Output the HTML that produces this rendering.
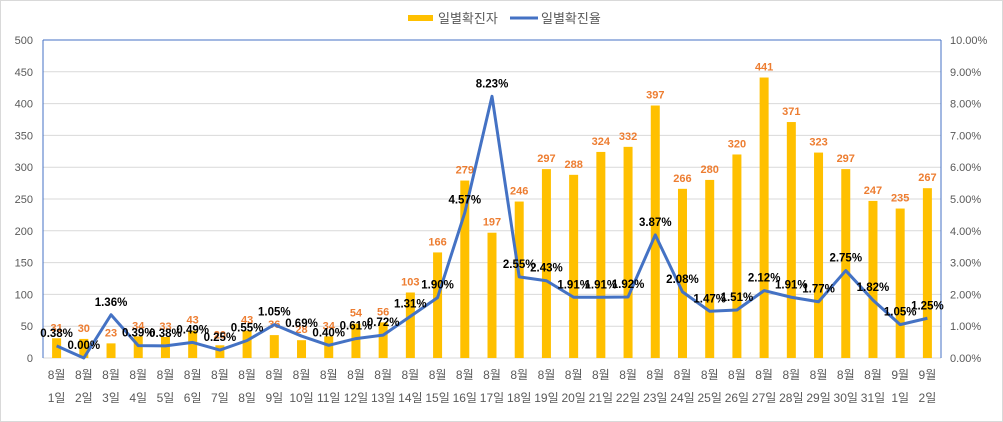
<!DOCTYPE html>
<html><head><meta charset="utf-8"><style>
body{margin:0;background:#fff;}
svg{display:block;font-family:"Liberation Sans","Noto Sans CJK KR",sans-serif;}
</style></head><body>
<svg id="c" width="1003" height="422">
<rect x="0.5" y="0.5" width="1002" height="421" fill="#fff" stroke="#d9d9d9"/>
<g>
<g><rect x="408" y="15" width="25" height="6" fill="#ffc000"/><text x="438" y="23" font-size="13" fill="#595959">일별확진자</text></g>
<g><line x1="510" y1="18" x2="538" y2="18" stroke="#4472c4" stroke-width="3"/><text x="541" y="23" font-size="13" fill="#595959">일별확진율</text></g>
</g>
</svg>
<script>
const categories=["1일","2일","3일","4일","5일","6일","7일","8일","9일","10일","11일","12일","13일","14일","15일","16일","17일","18일","19일","20일","21일","22일","23일","24일","25일","26일","27일","28일","29일","30일","31일","1일","2일"];
const months=["8월","8월","8월","8월","8월","8월","8월","8월","8월","8월","8월","8월","8월","8월","8월","8월","8월","8월","8월","8월","8월","8월","8월","8월","8월","8월","8월","8월","8월","8월","8월","9월","9월"];
const cases=[31,30,23,34,33,43,20,43,36,28,34,54,56,103,166,279,197,246,297,288,324,332,397,266,280,320,441,371,323,297,247,235,267];
const rates=[0.38,0.00,1.36,0.39,0.38,0.49,0.25,0.55,1.05,0.69,0.40,0.61,0.72,1.31,1.90,4.57,8.23,2.55,2.43,1.91,1.91,1.92,3.87,2.08,1.47,1.51,2.12,1.91,1.77,2.75,1.82,1.05,1.25];
const leftTicks=[0,50,100,150,200,250,300,350,400,450,500];
const rightTicks=[0,1,2,3,4,5,6,7,8,9,10];
const svg=document.getElementById('c');
const NS='http://www.w3.org/2000/svg';
const L=43,R=941,T=40,B=358;
const yL=v=>B-(v/500)*(B-T);
const yR=v=>B-(v/10)*(B-T);
const bw=(R-L)/categories.length;
const xC=i=>L+bw*(i+0.5);
function mk(tag,attrs,txt){const e=document.createElementNS(NS,tag);for(const k in attrs)e.setAttribute(k,attrs[k]);if(txt!==undefined)e.textContent=txt;svg.appendChild(e);return e;}
leftTicks.forEach(v=>{
 const g=mk('line',{x1:L,x2:R,y1:yL(v),y2:yL(v),stroke:'#d9d9d9','stroke-width':1});
 
 
 const t=mk('text',{x:33,y:yL(v)+4,'font-size':11,fill:'#595959','text-anchor':'end'},v);
 
 
});
rightTicks.forEach(v=>{
 const t=mk('text',{x:950,y:yR(v)+4,'font-size':11,fill:'#595959'},v.toFixed(2)+'%');
 
 
});
let a=mk('line',{x1:L,x2:L,y1:T,y2:B,stroke:'#4472c4'});


a=mk('line',{x1:R,x2:R,y1:T,y2:B,stroke:'#4472c4'});


a=mk('line',{x1:L,x2:R,y1:T,y2:T,stroke:'#4472c4'});


cases.forEach((v,i)=>{
 const b=mk('rect',{x:xC(i)-4.5,y:yL(v),width:9,height:B-yL(v),fill:'#ffc000'});
 
 
 const t=mk('text',{x:xC(i),y:yL(v)-7,'font-size':11,'font-weight':'bold',fill:'#ed7d31','text-anchor':'middle'},v);
 
 
 const m=mk('text',{x:xC(i),y:379,'font-size':12,fill:'#595959','text-anchor':'middle'},months[i]);
 
 
 const d=mk('text',{x:xC(i),y:402,'font-size':12,fill:'#595959','text-anchor':'middle'},categories[i]);
 
 
});
const pl=mk('polyline',{points:rates.map((v,i)=>xC(i)+','+yR(v)).join(' '),fill:'none',stroke:'#4472c4','stroke-width':3,'stroke-linejoin':'round'});


rates.forEach((v,i)=>{
 const t=mk('text',{x:xC(i),y:yR(v)-9,'font-size':11.5,'font-weight':'bold',fill:'#000','text-anchor':'middle'},v.toFixed(2)+'%');
 
 
});
</script>
</body></html>
